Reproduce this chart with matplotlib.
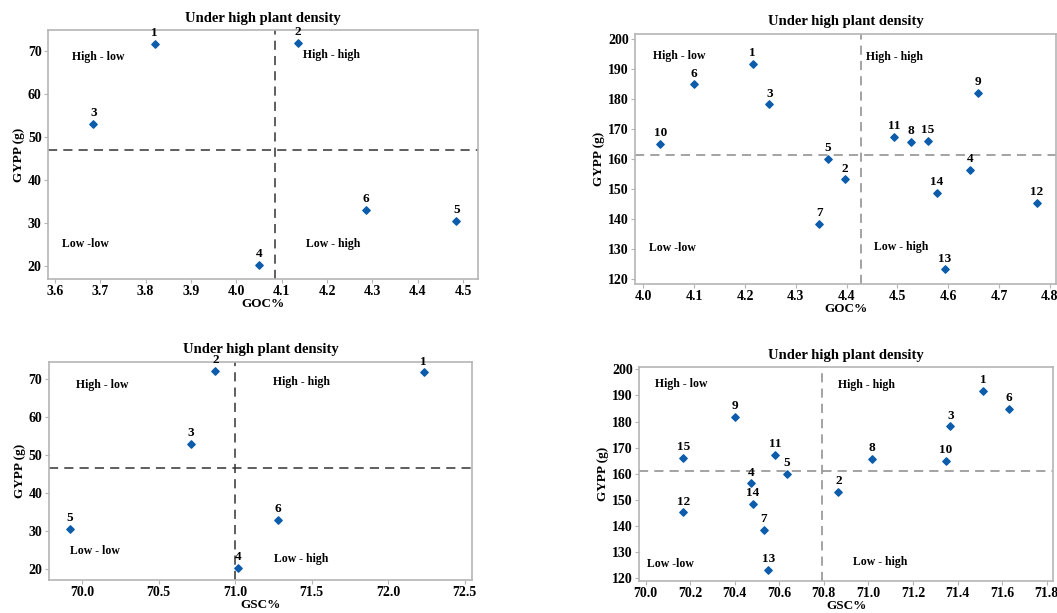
import matplotlib.pyplot as plt

plt.rcParams['font.family'] = ['Liberation Serif', 'DejaVu Serif']
plt.rcParams['font.weight'] = 'bold'

# 6 genotypes (left panels)
ids6 = ['1', '2', '3', '4', '5', '6']
goc6 = [3.82, 4.135, 3.685, 4.05, 4.485, 4.285]
gsc6 = [72.23, 70.87, 70.71, 71.02, 69.92, 71.28]
gypp6 = [71.7, 72.0, 53.0, 20.2, 30.5, 33.0]

# 15 genotypes (right panels)
ids15 = [str(i) for i in range(1, 16)]
goc15 = [4.215, 4.397, 4.248, 4.643, 4.363, 4.099, 4.346, 4.527,
         4.659, 4.033, 4.494, 4.774, 4.593, 4.577, 4.560]
gsc15 = [71.516, 70.865, 71.368, 70.474, 70.633, 71.631, 70.531, 71.016,
         70.400, 71.348, 70.582, 70.169, 70.551, 70.482, 70.169]
gypp15 = [191.6, 153.1, 178.1, 156.3, 160.0, 184.8, 138.4, 165.7,
          181.9, 165.0, 167.2, 145.2, 123.1, 148.6, 166.0]

blue = '#0b5cab'
spine_c = '#b5b5b5'


def panel(rect, x, y, ids, xlab, xlim, ylim, xticks, yticks, vline, hline,
          line_c, quads, xfmt='{:.1f}'):
    ax = fig.add_axes(rect)
    ax.scatter(x, y, marker='D', s=14, color=blue, zorder=3)
    for xi, yi, t in zip(x, y, ids):
        ax.annotate(t, (xi, yi), xytext=(0, 3.5), textcoords='offset points',
                    ha='center', va='bottom', fontsize=9.5, fontweight='bold')
    ax.axvline(vline, color=line_c, ls=(0, (6, 4)), lw=1.1)
    ax.axhline(hline, color=line_c, ls=(0, (6, 4)), lw=1.1)
    for (tx, ty, s) in quads:
        ax.text(tx, ty, s, fontsize=8.5, fontweight='bold', va='center', ha='left')
    ax.set_xlim(xlim)
    ax.set_ylim(ylim)
    ax.set_xticks(xticks)
    ax.set_xticklabels([xfmt.format(v) for v in xticks])
    ax.set_yticks(yticks)
    ax.tick_params(labelsize=10, length=3, color=spine_c, pad=1.5)
    for lab in ax.get_xticklabels() + ax.get_yticklabels():
        lab.set_fontweight('bold')
    for sp in ax.spines.values():
        sp.set_color(spine_c)
        sp.set_linewidth(1.2)
    ax.set_xlabel(xlab, fontsize=9.5, fontweight='bold', labelpad=0)
    ax.set_ylabel('GYPP (g)', fontsize=9.5, fontweight='bold', labelpad=2)
    ax.set_title('Under high plant density', fontsize=10.5, fontweight='bold', pad=6)
    return ax


fig = plt.figure(figsize=(10.57, 6.13), dpi=100)

panel([0.0454, 0.545, 0.407, 0.406], goc6, gypp6, ids6, 'GOC%',
      (3.585, 4.533), (17.0, 74.9),
      [3.6, 3.7, 3.8, 3.9, 4.0, 4.1, 4.2, 4.3, 4.4, 4.5], [20, 30, 40, 50, 60, 70],
      4.085, 47.0, '#333333',
      [(3.637, 68.6, 'High - low'), (4.147, 69.1, 'High - high'),
       (3.615, 25.1, 'Low -low'), (4.154, 25.1, 'Low - high')])

panel([0.601, 0.537, 0.398, 0.408], goc15, gypp15, ids15, 'GOC%',
      (3.984, 4.812), (118.3, 201.7),
      [4.0, 4.1, 4.2, 4.3, 4.4, 4.5, 4.6, 4.7, 4.8],
      [120, 130, 140, 150, 160, 170, 180, 190, 200],
      4.428, 161.4, '#8a8a8a',
      [(4.018, 194.4, 'High - low'), (4.438, 193.9, 'High - high'),
       (4.011, 130.3, 'Low -low'), (4.454, 130.6, 'Low - high')])

panel([0.046, 0.0538, 0.401, 0.356], gsc6, gypp6, ids6, 'GSC%',
      (69.78, 72.55), (17.1, 74.5),
      [70.0, 70.5, 71.0, 71.5, 72.0, 72.5], [20, 30, 40, 50, 60, 70],
      71.0, 46.5, '#333333',
      [(69.956, 68.4, 'High - low'), (71.245, 69.2, 'High - high'),
       (69.917, 24.75, 'Low - low'), (71.255, 22.5, 'Low - high')])

panel([0.6045, 0.052, 0.392, 0.349], gsc15, gypp15, ids15, 'GSC%',
      (69.97, 71.83), (118.9, 200.8),
      [70.0, 70.2, 70.4, 70.6, 70.8, 71.0, 71.2, 71.4, 71.6, 71.8],
      [120, 130, 140, 150, 160, 170, 180, 190, 200],
      70.793, 161.1, '#8a8a8a',
      [(70.043, 194.3, 'High - low'), (70.865, 194.1, 'High - high'),
       (70.006, 125.6, 'Low -low'), (70.929, 126.2, 'Low - high')])

fig.savefig('out.png', dpi=100)
